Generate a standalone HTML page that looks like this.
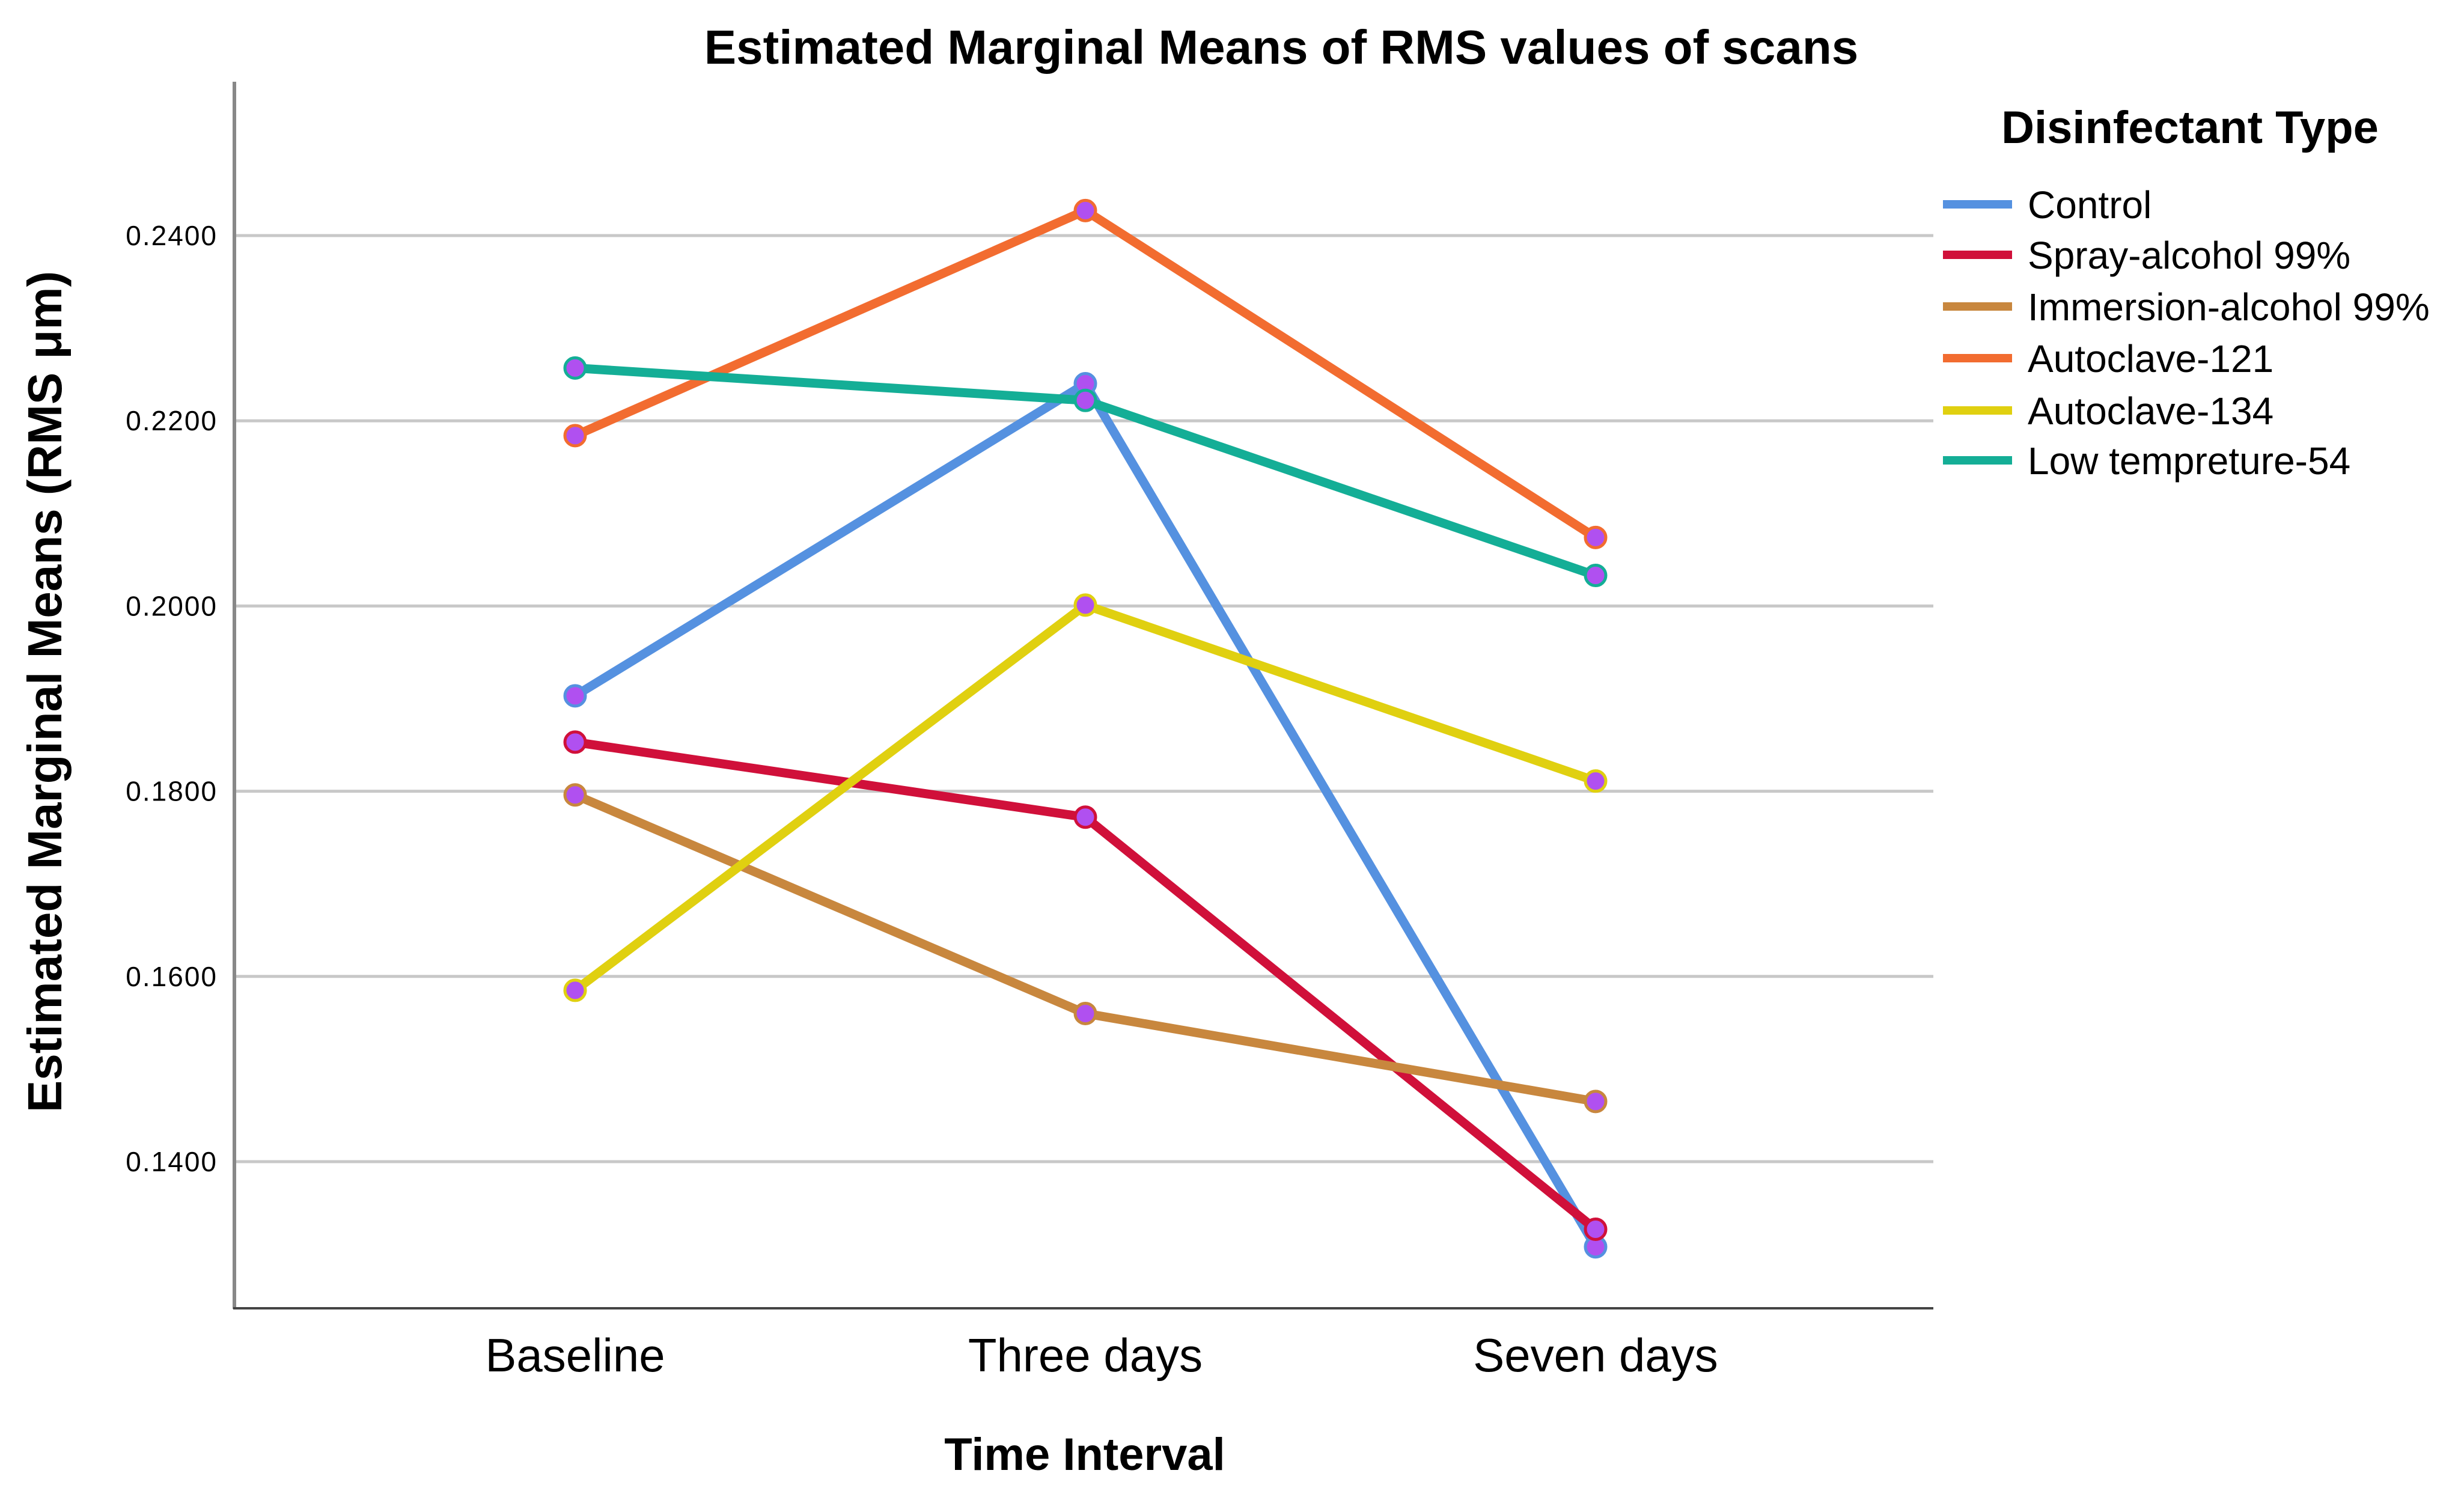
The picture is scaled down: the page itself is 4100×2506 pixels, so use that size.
<!DOCTYPE html>
<html><head><meta charset="utf-8"><style>
html,body{margin:0;padding:0;background:#fff}
svg{display:block;font-family:"Liberation Sans",sans-serif}
</style></head><body>
<svg id="chart" width="4100" height="2506" viewBox="0 0 4100 2506">
<text x="2132" y="106" text-anchor="middle" font-size="80" font-weight="bold">Estimated Marginal Means of RMS values of scans</text>
<g id="grid"></g>
<g id="yticks"></g>
<line x1="390" y1="136" x2="390" y2="2178" stroke="#888" stroke-width="6"/>
<line x1="388" y1="2177" x2="3217" y2="2177" stroke="#444" stroke-width="4"/>
<g id="xticks"></g>
<g id="series"></g>
<text transform="translate(102,1151) rotate(-90)" text-anchor="middle" font-size="80" font-weight="bold">Estimated Marginal Means (RMS μm)</text>
<text x="1805" y="2446" text-anchor="middle" font-size="76" font-weight="bold">Time Interval</text>
<text x="3644" y="238" text-anchor="middle" font-size="76" font-weight="bold">Disinfectant Type</text>
<g id="legend"></g>
</svg>
<script>
const categories = ["Baseline", "Three days", "Seven days"];
const seriesNames = ["Control", "Spray-alcohol 99%", "Immersion-alcohol 99%", "Autoclave-121", "Autoclave-134", "Low tempreture-54"];
const control = [0.1903, 0.2240, 0.1308];
const spray = [0.1853, 0.1772, 0.1327];
const immersion = [0.1796, 0.1560, 0.1465];
const autoclave121 = [0.2184, 0.2427, 0.2074];
const autoclave134 = [0.1585, 0.2001, 0.1811];
const lowTemp = [0.2257, 0.2222, 0.2033];
const yTicks = [0.14, 0.16, 0.18, 0.20, 0.22, 0.24];
const yTickLabels = ["0.1400", "0.1600", "0.1800", "0.2000", "0.2200", "0.2400"];

const NS = "http://www.w3.org/2000/svg";
const allSeries = [control, spray, immersion, autoclave121, autoclave134, lowTemp];
const colors = ["#5591e0", "#d0103a", "#c8873e", "#f26c30", "#e0d010", "#14ae96"];
function yScale(v) { return 392 + (0.24 - v) / 0.02 * 308.2; }
function xScale(i) { return 957 + i * 849; }
function mk(tag, attrs, parent) {
  const e = document.createElementNS(NS, tag);
  for (const k in attrs) e.setAttribute(k, attrs[k]);
  parent.appendChild(e);
  return e;
}
const grid = document.getElementById('grid');
const yt = document.getElementById('yticks');
yTicks.forEach((v, i) => {
  const y = yScale(v);
  const l = mk('line', {x1: 393, x2: 3217, y1: y, y2: y, stroke: '#c8c8c8', 'stroke-width': 5}, grid);
  
  
  const t = mk('text', {x: 362, y: y + 16, 'text-anchor': 'end', 'font-size': 46, 'letter-spacing': 2}, yt);
  t.textContent = yTickLabels[i];
  
  
});
const xt = document.getElementById('xticks');
categories.forEach((c, i) => {
  const t = mk('text', {x: xScale(i), y: 2282, 'text-anchor': 'middle', 'font-size': 78}, xt);
  t.textContent = c;
  
  
});
const sg = document.getElementById('series');
allSeries.forEach((vals, s) => {
  const pts = vals.map((v, i) => xScale(i) + ',' + yScale(v)).join(' ');
  const pl = mk('polyline', {points: pts, fill: 'none', stroke: colors[s], 'stroke-width': 15, 'stroke-linejoin': 'round'}, sg);
  
  
});
allSeries.forEach((vals, s) => {
  vals.forEach((v, i) => {
    const c = mk('circle', {cx: xScale(i), cy: yScale(v), r: 17, fill: '#b050f0', stroke: colors[s], 'stroke-width': 5}, sg);
    
    
  });
});
const lg = document.getElementById('legend');
const ly = [340, 424, 510, 596, 683, 766];
seriesNames.forEach((n, s) => {
  const l = mk('line', {x1: 3233, x2: 3348, y1: ly[s], y2: ly[s], stroke: colors[s], 'stroke-width': 14}, lg);
  
  
  const t = mk('text', {x: 3374, y: ly[s] + 23, 'font-size': 64}, lg);
  t.textContent = n;
  
  
});
</script>
</body></html>
